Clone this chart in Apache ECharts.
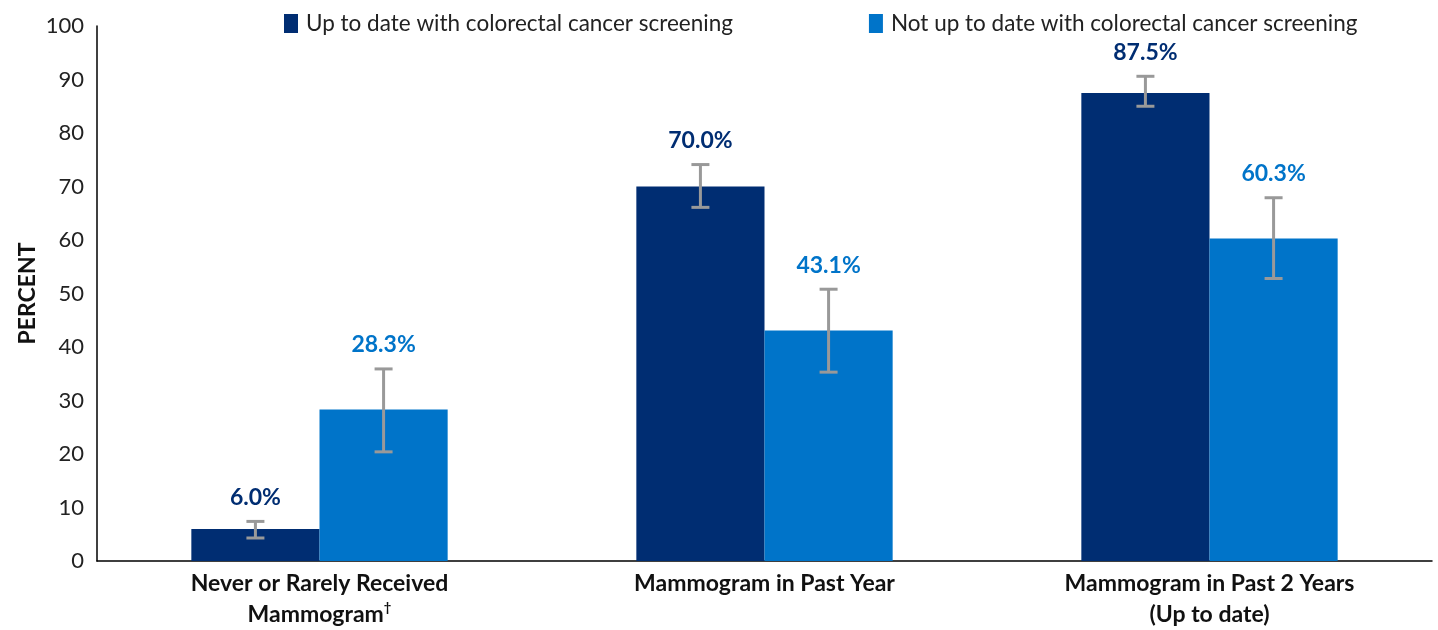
<!DOCTYPE html>
<html>
<head>
<meta charset="utf-8">
<script src="https://cdn.jsdelivr.net/npm/echarts@6/dist/echarts.min.js"></script>
<style>
  html, body { margin: 0; padding: 0; background: #fff; }
  #chart { width: 1438px; height: 630px; }
</style>
</head>
<body>
<div id="chart"></div>
<script>
const categories = ['Never or Rarely Received\nMammogram{sup|†}', 'Mammogram in Past Year', 'Mammogram in Past 2 Years\n(Up to date)'];
const seriesNames = ['Up to date with colorectal cancer screening', 'Not up to date with colorectal cancer screening'];
const upToDate = [6.0, 70.0, 87.5];
const notUpToDate = [28.3, 43.1, 60.3];
// 95% CI (low, high)
const upToDateCI = [[4.3, 7.4], [66.1, 74.1], [85.0, 90.6]];
const notUpToDateCI = [[20.4, 35.9], [35.3, 50.8], [52.8, 67.9]];

const colors = ['#002D72', '#0074C9'];
const BAR_PCT = 0.288;
const font = 'Lato, "Open Sans", sans-serif';

// error bar + value label, drawn on top of the bars
function errorSeries(name, ci, values, side, color) {
  return {
    type: 'custom',
    name: name + ' CI',
    z: 10,
    data: ci.map((c, i) => [i, c[0], c[1], values[i]]),
    renderItem: function (params, api) {
      const band = api.size([1, 0])[0];
      const off = side * band * BAR_PCT / 2;
      const lo = api.coord([api.value(0), api.value(1)]);
      const hi = api.coord([api.value(0), api.value(2)]);
      const x = lo[0] + off;
      const cap = 9;
      const st = { stroke: '#999999', lineWidth: 3 };
      return {
        type: 'group',
        children: [
          { type: 'line', shape: { x1: x, y1: hi[1], x2: x, y2: lo[1] }, style: st },
          { type: 'line', shape: { x1: x - cap, y1: hi[1], x2: x + cap, y2: hi[1] }, style: st },
          { type: 'line', shape: { x1: x - cap, y1: lo[1], x2: x + cap, y2: lo[1] }, style: st },
          {
            type: 'text',
            style: {
              x: x, y: hi[1] - 24,
              text: api.value(3).toFixed(1) + '%',
              fill: color, font: 'bold 23px ' + font,
              align: 'center', verticalAlign: 'middle'
            }
          }
        ]
      };
    }
  };
}

const chart = echarts.init(document.getElementById('chart'));
chart.setOption({
  animation: false,
  color: colors,
  legend: {
    data: seriesNames,
    left: 279,
    top: 7,
    itemWidth: 14,
    itemHeight: 19,
    itemGap: 136,
    icon: 'rect',
    textStyle: { fontSize: 22.5, color: '#222', fontFamily: font, padding: [0, 0, 0, 3] }
  },
  grid: { left: 97, right: 6, top: 26, bottom: 69, containLabel: false, outerBoundsMode: 'none' },
  xAxis: {
    type: 'category',
    data: categories,
    axisTick: { show: false },
    axisLine: { lineStyle: { color: '#000', width: 1.5 } },
    axisLabel: {
      fontSize: 23, fontWeight: 'bold', color: '#111', fontFamily: font,
      lineHeight: 31, margin: 7, interval: 0,
      rich: { sup: { fontSize: 13, fontWeight: 'bold', color: '#111', padding: [0, 0, 14, 0] } }
    }
  },
  yAxis: {
    type: 'value',
    min: 0, max: 100, interval: 10,
    name: 'PERCENT',
    nameLocation: 'middle',
    nameGap: 58,
    nameMoveOverlap: false,
    nameTextStyle: { fontSize: 23, fontWeight: 'bold', color: '#111', fontFamily: font },
    axisLine: { show: true, lineStyle: { color: '#000', width: 1.5 } },
    axisTick: { show: false },
    splitLine: { show: false },
    axisLabel: { fontSize: 22, color: '#222', fontFamily: font, margin: 13 }
  },
  series: [
    { type: 'bar', name: seriesNames[0], data: upToDate, barWidth: (BAR_PCT * 100) + '%', barGap: '0%', itemStyle: { color: colors[0] } },
    { type: 'bar', name: seriesNames[1], data: notUpToDate, barWidth: (BAR_PCT * 100) + '%', barGap: '0%', itemStyle: { color: colors[1] } },
    errorSeries(seriesNames[0], upToDateCI, upToDate, -1, colors[0]),
    errorSeries(seriesNames[1], notUpToDateCI, notUpToDate, 1, colors[1])
  ]
});
</script>
</body>
</html>
